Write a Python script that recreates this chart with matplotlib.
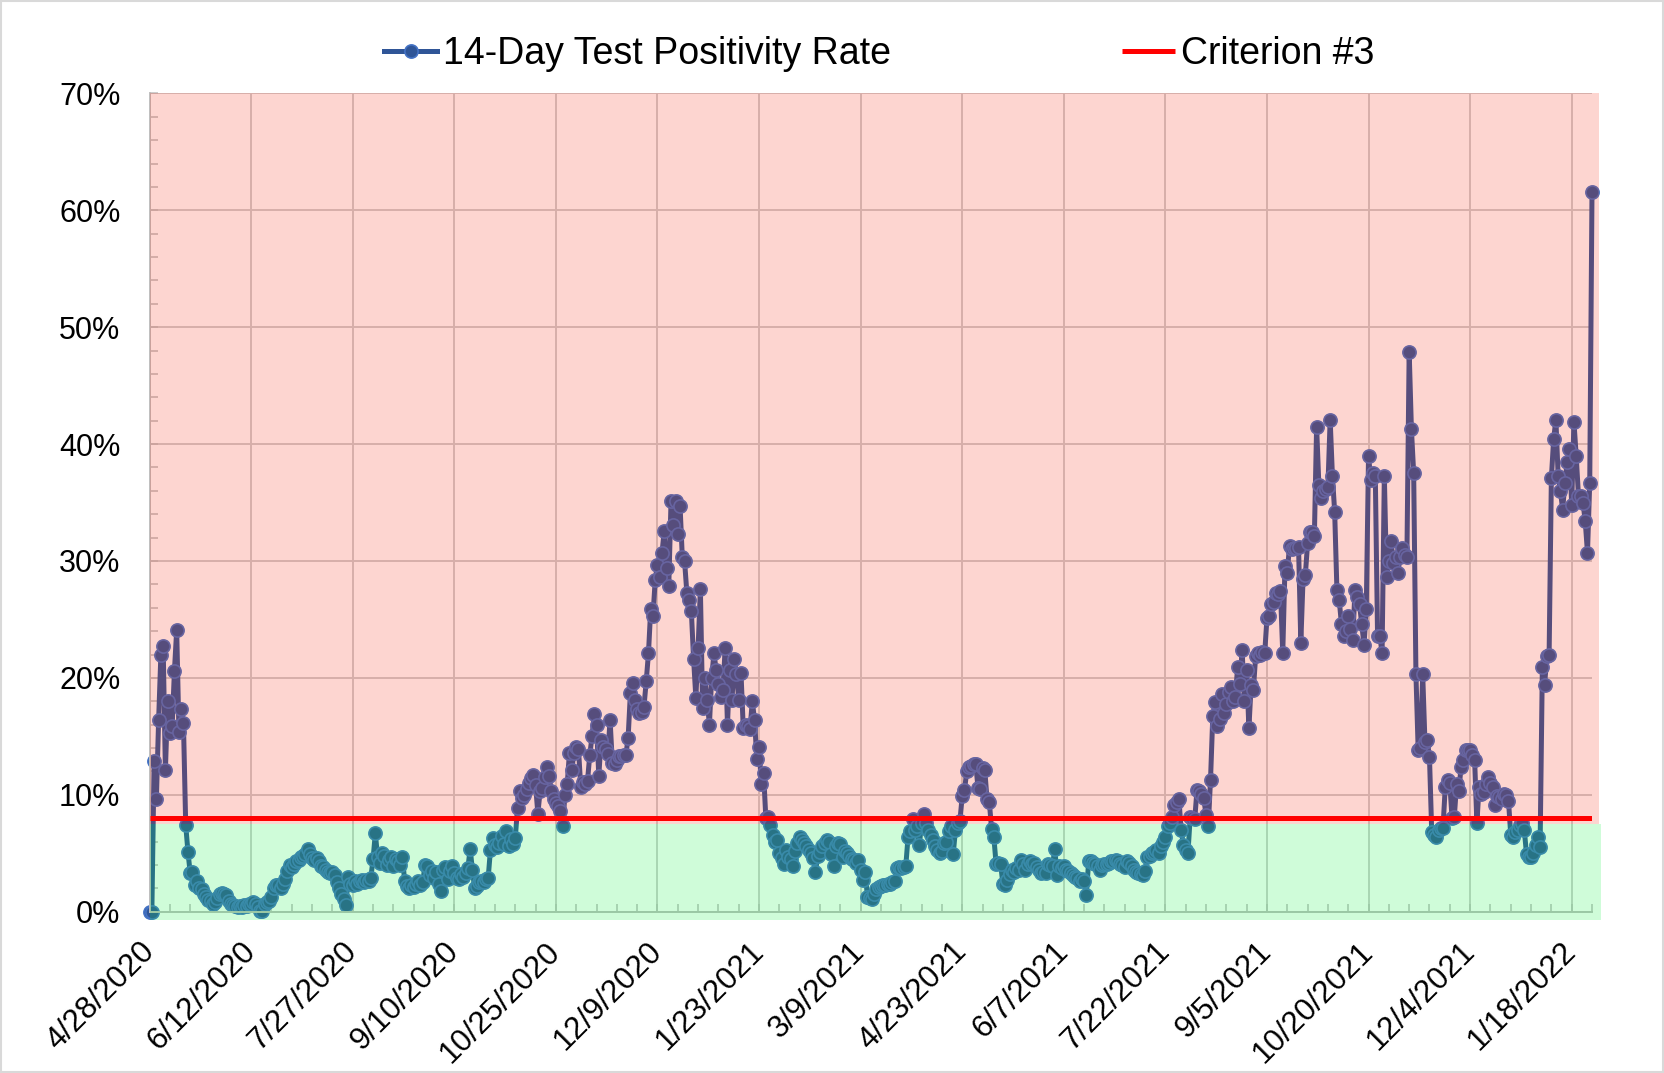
import numpy as np
import matplotlib
matplotlib.use("Agg")
import matplotlib.pyplot as plt
from matplotlib.patches import Rectangle
from matplotlib.ticker import MultipleLocator, FixedLocator
from matplotlib.transforms import ScaledTranslation

# ---------------- data (percent, one value per day) ----------------
start_date = "2020-04-28"
criterion_3 = 8.0          # percent
green_band_top = 7.5       # percent

pos_2020_04_28 = [0.0, 0.0, 12.9, 9.6, 16.4, 22.0, 22.7, 12.1, 18.0, 15.3,
                  15.9, 20.6, 24.1, 15.4, 17.3, 16.1, 7.4, 5.1, 3.3, 3.4,
                  2.3, 2.6, 2.0, 1.9, 1.5, 1.3, 1.0, 0.9, 0.7, 0.8,
                  1.2, 1.5, 1.6, 1.5, 1.4, 0.9, 0.7, 0.6, 0.5, 0.4,
                  0.5, 0.4, 0.6, 0.5, 0.7]
pos_2020_06_12 = [0.7, 0.8, 0.7, 0.4, 0.1, 0.1, 0.7, 0.8, 0.9, 1.3,
                  2.0, 2.3, 2.3, 2.0, 2.4, 2.8, 3.5, 4.0, 3.8, 4.1,
                  4.3, 4.4, 4.7, 4.8, 4.9, 5.4, 4.9, 4.6, 4.4, 4.6,
                  4.3, 3.9, 3.8, 3.6, 3.4, 3.3, 3.4, 3.1, 2.5, 2.0,
                  1.5, 1.1, 0.6, 3.0, 2.4]
pos_2020_07_27 = [2.3, 2.6, 2.4, 2.6, 2.7, 2.5, 2.7, 2.6, 2.9, 4.5,
                  6.7, 4.7, 4.2, 5.0, 4.8, 4.0, 4.4, 4.7, 3.9, 4.5,
                  4.3, 4.0, 4.7, 2.6, 2.2, 2.0, 2.3, 2.1, 2.4, 2.6,
                  2.3, 2.5, 4.0, 3.9, 3.1, 3.5, 2.9, 3.4, 2.4, 1.8,
                  3.6, 3.8, 2.8, 3.5, 3.9]
pos_2020_09_10 = [3.3, 2.9, 2.8, 3.2, 3.0, 3.3, 3.7, 5.4, 3.6, 2.0,
                  2.2, 2.5, 2.6, 2.5, 2.8, 2.9, 5.3, 6.3, 5.7, 5.5,
                  5.9, 6.5, 5.8, 6.9, 5.6, 6.2, 5.8, 6.3, 8.9, 10.3,
                  9.7, 10.0, 10.5, 11.0, 11.4, 11.7, 10.8, 8.4, 10.3, 10.6,
                  11.5, 12.4, 11.6, 10.3, 9.6]
pos_2020_10_25 = [9.3, 9.0, 8.6, 7.3, 10.0, 10.9, 13.6, 12.1, 13.6, 14.1,
                  13.9, 10.7, 11.1, 10.9, 11.2, 13.4, 15.0, 16.9, 16.0, 11.6,
                  14.7, 14.1, 13.9, 13.5, 16.4, 12.7, 12.6, 13.0, 13.3, 13.3,
                  13.4, 13.4, 14.9, 18.7, 19.6, 18.1, 17.3, 17.0, 17.1, 17.5,
                  19.7, 22.1, 25.9, 25.3, 28.4]
pos_2020_12_09 = [29.7, 28.6, 30.7, 32.6, 29.4, 27.9, 35.1, 33.1, 35.1, 32.3,
                  34.7, 30.3, 30.0, 27.3, 26.7, 25.7, 21.6, 18.3, 22.6, 27.6,
                  17.4, 20.0, 18.1, 16.0, 20.0, 22.1, 20.7, 19.5, 18.4, 19.0,
                  22.6, 16.0, 20.7, 18.1, 21.6, 20.3, 18.1, 20.4, 15.7, 16.0,
                  15.9, 15.6, 18.0, 16.4, 13.1]
pos_2021_01_23 = [14.1, 10.9, 11.9, 8.0, 8.1, 7.4, 6.6, 6.0, 6.1, 5.0,
                  4.6, 4.1, 5.3, 4.7, 4.5, 3.9, 5.2, 5.9, 6.4, 6.1,
                  5.9, 5.6, 5.3, 5.0, 4.6, 3.4, 4.8, 5.1, 5.6, 5.9,
                  6.1, 6.0, 4.9, 3.9, 5.6, 5.9, 5.8, 4.7, 5.2, 5.0,
                  4.8, 4.5, 4.4, 4.2, 4.4]
pos_2021_03_09 = [3.6, 2.7, 3.4, 1.3, 1.2, 1.1, 1.5, 1.9, 2.1, 2.2,
                  2.3, 2.3, 2.4, 2.4, 2.5, 2.6, 3.7, 3.8, 3.7, 3.8,
                  3.9, 6.4, 6.9, 7.9, 7.0, 7.3, 5.7, 7.6, 8.4, 7.6,
                  7.0, 6.6, 6.1, 5.6, 5.3, 5.0, 5.2, 5.9, 6.0, 6.9,
                  7.3, 4.9, 7.0, 7.6, 7.8]
pos_2021_04_23 = [9.9, 10.4, 12.0, 12.4, 12.5, 12.6, 12.6, 10.6, 10.5, 12.3,
                  12.1, 9.6, 9.4, 7.1, 6.4, 4.1, 4.2, 4.1, 2.4, 2.3,
                  2.7, 3.2, 3.6, 3.4, 3.7, 3.6, 4.4, 4.1, 3.6, 4.1,
                  4.3, 4.1, 4.2, 3.8, 3.6, 3.3, 3.4, 3.3, 4.1, 4.0,
                  3.9, 5.4, 3.1, 3.9, 3.7]
pos_2021_06_07 = [3.9, 3.6, 3.5, 3.3, 3.1, 3.0, 2.9, 2.6, 2.8, 2.6,
                  1.4, 4.3, 4.3, 4.2, 4.1, 3.9, 3.6, 4.0, 4.1, 4.1,
                  4.2, 4.3, 4.3, 4.4, 4.3, 4.1, 4.0, 3.8, 4.3, 4.2,
                  3.9, 3.6, 3.4, 3.3, 3.2, 3.1, 3.5, 4.7, 4.8, 5.0,
                  5.1, 5.3, 5.0, 5.6, 6.0]
pos_2021_07_22 = [6.4, 7.3, 7.6, 8.1, 9.1, 9.4, 9.6, 7.0, 5.7, 5.3,
                  5.0, 8.1, 8.0, 7.9, 10.4, 10.3, 10.1, 9.7, 8.3, 7.3,
                  11.3, 16.7, 17.9, 15.9, 16.5, 18.6, 17.0, 17.8, 18.8, 19.2,
                  18.0, 18.4, 20.9, 19.5, 22.4, 18.0, 20.7, 15.7, 19.4, 19.0,
                  21.9, 22.1, 22.0, 22.2, 22.1]
pos_2021_09_05 = [25.1, 25.3, 26.3, 26.5, 27.3, 27.2, 27.4, 22.1, 29.6, 29.0,
                  31.3, 31.0, 31.1, 31.1, 31.2, 23.0, 28.5, 28.8, 31.5, 32.5,
                  32.5, 32.1, 41.5, 36.5, 35.4, 36.0, 36.2, 36.3, 42.1, 37.3,
                  34.2, 27.5, 26.7, 24.6, 23.6, 24.0, 25.3, 24.2, 23.2, 27.5,
                  26.9, 26.3, 24.6, 22.8, 25.9]
pos_2021_10_20 = [39.0, 36.9, 37.5, 37.3, 23.6, 23.6, 22.1, 37.3, 28.6, 30.0,
                  31.7, 29.8, 30.3, 29.0, 30.3, 31.1, 30.5, 30.3, 47.9, 41.3,
                  37.5, 20.3, 13.8, 14.0, 20.3, 14.5, 14.7, 13.2, 6.8, 6.6,
                  6.4, 7.0, 7.2, 7.2, 10.7, 11.3, 11.0, 8.0, 8.1, 10.9,
                  10.3, 12.4, 13.0, 13.8, 13.8]
pos_2021_12_04 = [13.8, 13.4, 13.0, 7.6, 10.7, 10.1, 10.2, 10.9, 11.5, 11.0,
                  10.7, 9.1, 9.9, 9.8, 9.6, 10.1, 10.0, 9.5, 6.6, 6.4,
                  6.8, 7.0, 7.4, 7.6, 7.0, 4.9, 4.7, 4.7, 5.0, 5.7,
                  6.4, 5.5, 20.9, 19.4, 21.9, 22.0, 37.1, 40.4, 42.1, 37.3,
                  36.0, 34.4, 36.7, 38.5, 39.6]
pos_2022_01_18 = [34.8, 41.9, 39.0, 35.6, 35.6, 35.0, 33.4, 30.7, 36.7, 61.6]

y_ticks = [0, 10, 20, 30, 40, 50, 60, 70]
tick_every_days = 45
minor_every_days = 9
series_labels = ["14-Day Test Positivity Rate", "Criterion #3"]

# ---------------- build ----------------
values = np.array(pos_2020_04_28 + pos_2020_06_12 + pos_2020_07_27 + pos_2020_09_10 +
                  pos_2020_10_25 + pos_2020_12_09 + pos_2021_01_23 + pos_2021_03_09 +
                  pos_2021_04_23 + pos_2021_06_07 + pos_2021_07_22 + pos_2021_09_05 +
                  pos_2021_10_20 + pos_2021_12_04 + pos_2022_01_18) / 100.0
dates = np.datetime64(start_date) + np.arange(len(values))

plt.rcParams['font.family'] = ['Liberation Sans', 'DejaVu Sans']

W, H = 1664, 1073
fig = plt.figure(figsize=(W / 100, H / 100), dpi=100)
fig.patch.set_facecolor('white')
fig.patches.append(Rectangle((0.0008, 0.0012), 0.9984, 0.9976, transform=fig.transFigure,
                             fill=False, ec='#D9D9D9', lw=1.5))

ax = fig.add_axes([149.6 / W, 1 - 911.7 / H, (1592 - 149.6) / W, (911.7 - 93.4) / H])
ax.set_facecolor('white')
ax.set_axisbelow(True)

line, = ax.plot(dates, values, color='#2F5597', lw=3.6, marker='o', ms=9.5,
                mfc='#2F5597', mec='#4472C4', mew=1.2, zorder=2, clip_on=False,
                label=series_labels[0])

ytr = ax.get_yaxis_transform()
ax.add_patch(Rectangle((0, green_band_top / 100), 1.0048, 0.70 - green_band_top / 100 + 0.0005,
                       transform=ytr, fc=(245 / 255, 45 / 255, 20 / 255), alpha=0.2,
                       lw=0, zorder=3, clip_on=False))
ax.add_patch(Rectangle((0, -0.0071), 1.006, green_band_top / 100 + 0.0071,
                       transform=ytr, fc=(15 / 255, 240 / 255, 65 / 255), alpha=0.2,
                       lw=0, zorder=3, clip_on=False))

crit, = ax.plot([dates[0], dates[-1]], [criterion_3 / 100] * 2, color='#FF0000', lw=3.6,
                zorder=4, solid_capstyle='butt', label=series_labels[1])

ax.set_xlim(dates[0], dates[-1])
ax.set_ylim(0, 0.70)

major_idx = np.arange(0, len(values), tick_every_days)
minor_idx = np.arange(0, len(values), minor_every_days)
major_dates = dates[major_idx]
ax.xaxis.set_major_locator(FixedLocator(matplotlib.dates.date2num(major_dates)))
ax.xaxis.set_minor_locator(FixedLocator(matplotlib.dates.date2num(dates[minor_idx])))
lbls = []
for d in major_dates.astype(object):
    lbls.append(f"{d.month}/{d.day}/{d.year}")
ax.set_xticklabels(lbls, rotation=45, ha='right', va='center', rotation_mode='anchor',
                   fontsize=22.5)
shift = ScaledTranslation(2 / 100, 0, fig.dpi_scale_trans)
for t in ax.get_xticklabels():
    t.set_transform(t.get_transform() + shift)

ax.set_yticks([v / 100 for v in y_ticks])
ax.set_yticklabels([f"{v}%" for v in y_ticks], fontsize=22)
ax.yaxis.set_minor_locator(MultipleLocator(0.02))

ax.tick_params(axis='both', which='both', direction='in', color='#BFBFBF', width=1.1)
ax.tick_params(axis='both', which='both', length=5.5)
ax.tick_params(axis='y', which='major', pad=21)
ax.tick_params(axis='x', which='major', pad=25.5)

ax.grid(True, which='major', color='#CFCFCF', lw=1.4)
for s in ['top', 'right']:
    ax.spines[s].set_visible(False)
for s in ['left', 'bottom']:
    ax.spines[s].set_color('#BFBFBF')
    ax.spines[s].set_linewidth(1.4)

fs_leg = 27
leg1 = fig.legend(handles=[line], loc='center left', bbox_to_anchor=(384 / W, 1 - 54 / H),
                  frameon=False, fontsize=fs_leg, handlelength=1.42, handletextpad=0.16,
                  borderpad=0, borderaxespad=0)
leg2 = fig.legend(handles=[crit], loc='center left', bbox_to_anchor=(1122 / W, 1 - 54 / H),
                  frameon=False, fontsize=fs_leg, handlelength=1.42, handletextpad=0.16,
                  borderpad=0, borderaxespad=0)

fig.savefig('out.png', dpi=100)
